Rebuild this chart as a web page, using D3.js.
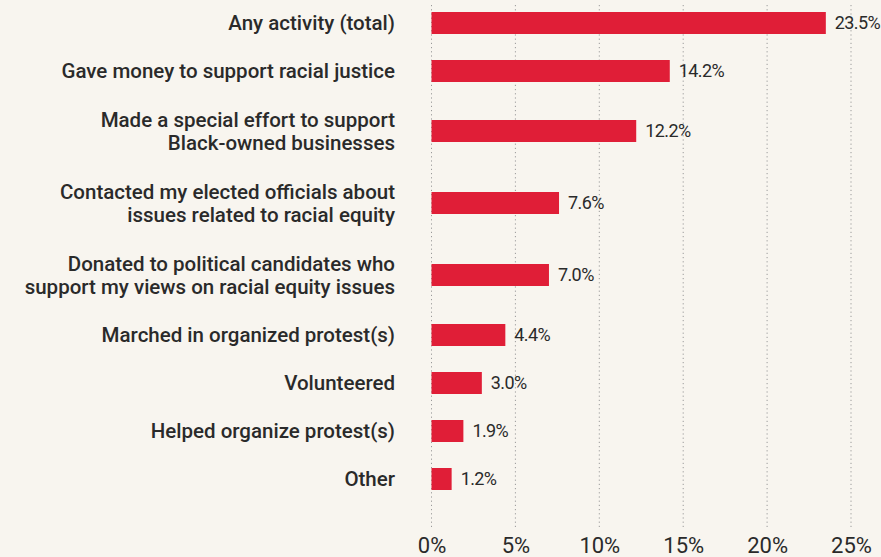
<!DOCTYPE html>
<html>
<head>
<meta charset="utf-8">
<script src="https://cdn.jsdelivr.net/npm/d3@7"></script>
<style>
  html, body { margin: 0; padding: 0; background: #f8f5ef; }
  svg { display: block; }
  text { font-family: Roboto, "Noto Sans", sans-serif; fill: #2a2a2a; }
</style>
</head>
<body>
<div id="chart"></div>
<script>
'use strict';

// Data
const categories = [
  ['Any activity (total)'],
  ['Gave money to support racial justice'],
  ['Made a special effort to support', 'Black-owned businesses'],
  ['Contacted my elected officials about', 'issues related to racial equity'],
  ['Donated to political candidates who', 'support my views on racial equity issues'],
  ['Marched in organized protest(s)'],
  ['Volunteered'],
  ['Helped organize protest(s)'],
  ['Other']
];
const values = [23.5, 14.2, 12.2, 7.6, 7.0, 4.4, 3.0, 1.9, 1.2];
const tickValues = [0, 5, 10, 15, 20, 25];

const width = 881;
const height = 557;

// Row centres: spacing grows with the number of label lines
const units = [0];
for (let i = 1; i < categories.length; i++) {
  const extra = (categories[i - 1].length - 1) + (categories[i].length - 1);
  units.push(units[i - 1] + 1 + extra * 0.25);
}

const x = d3.scaleLinear().domain([0, 25]).range([431.5, 851]);
const y = d3.scaleLinear()
            .domain([0, units[units.length - 1]])
            .range([23, 479]);
const barH = 22;

const svg = d3.select('#chart').append('svg')
              .attr('width', width)
              .attr('height', height);

svg.append('rect')
   .attr('width', width)
   .attr('height', height)
   .attr('fill', '#f8f5ef');

// Grid
svg.append('g')
   .selectAll('line')
   .data(tickValues)
   .enter().append('line')
           .attr('x1', (d) => x(d))
           .attr('x2', (d) => x(d))
           .attr('y1', 5)
           .attr('y2', 530)
           .attr('stroke', '#9a9a9a')
           .attr('stroke-width', 1)
           .attr('stroke-dasharray', '1.2,3');

// Axis
const axis = svg.append('g')
                .attr('transform', 'translate(0,' + 530 + ')')
                .call(d3.axisBottom(x)
                        .tickValues(tickValues)
                        .tickFormat((d) => d + '%')
                        .tickSize(0)
                        .tickPadding(7));
axis.select('.domain').remove();
axis.selectAll('text')
    .attr('font-size', 22)
    .attr('font-family', 'Roboto, sans-serif')
    .attr('fill', '#2a2a2a')
    .attr('dy', '0.71em');

// Bars
svg.append('g')
   .selectAll('rect')
   .data(values)
   .enter().append('rect')
           .attr('x', x(0))
           .attr('y', (d, i) => y(units[i]) - barH / 2)
           .attr('width', (d) => x(d) - x(0))
           .attr('height', barH)
           .attr('fill', '#e01e37');

// Value labels
svg.append('g')
   .selectAll('text')
   .data(values)
   .enter().append('text')
           .attr('x', (d) => x(d) + 9)
           .attr('y', (d, i) => y(units[i]))
           .attr('dy', '0.36em')
           .attr('font-size', 18)
           .attr('letter-spacing', '-0.6')
           .text((d) => d.toFixed(1) + '%');

// Category labels
const labels = svg.append('g')
                  .selectAll('text')
                  .data(categories)
                  .enter().append('text')
                          .attr('text-anchor', 'end')
                          .attr('font-size', 20.5)
                          .attr('font-weight', 500)
                          .attr('y', (d, i) => y(units[i]));

labels.selectAll('tspan')
      .data((d) => d)
      .enter().append('tspan')
              .attr('x', 395)
              .attr('dy', (t, j, nodes) => {
                const n = nodes.length;
                return j === 0 ? (0.36 - (n - 1) * 0.55) + 'em' : '1.1em';
              })
              .text((t) => t);
</script>
</body>
</html>
